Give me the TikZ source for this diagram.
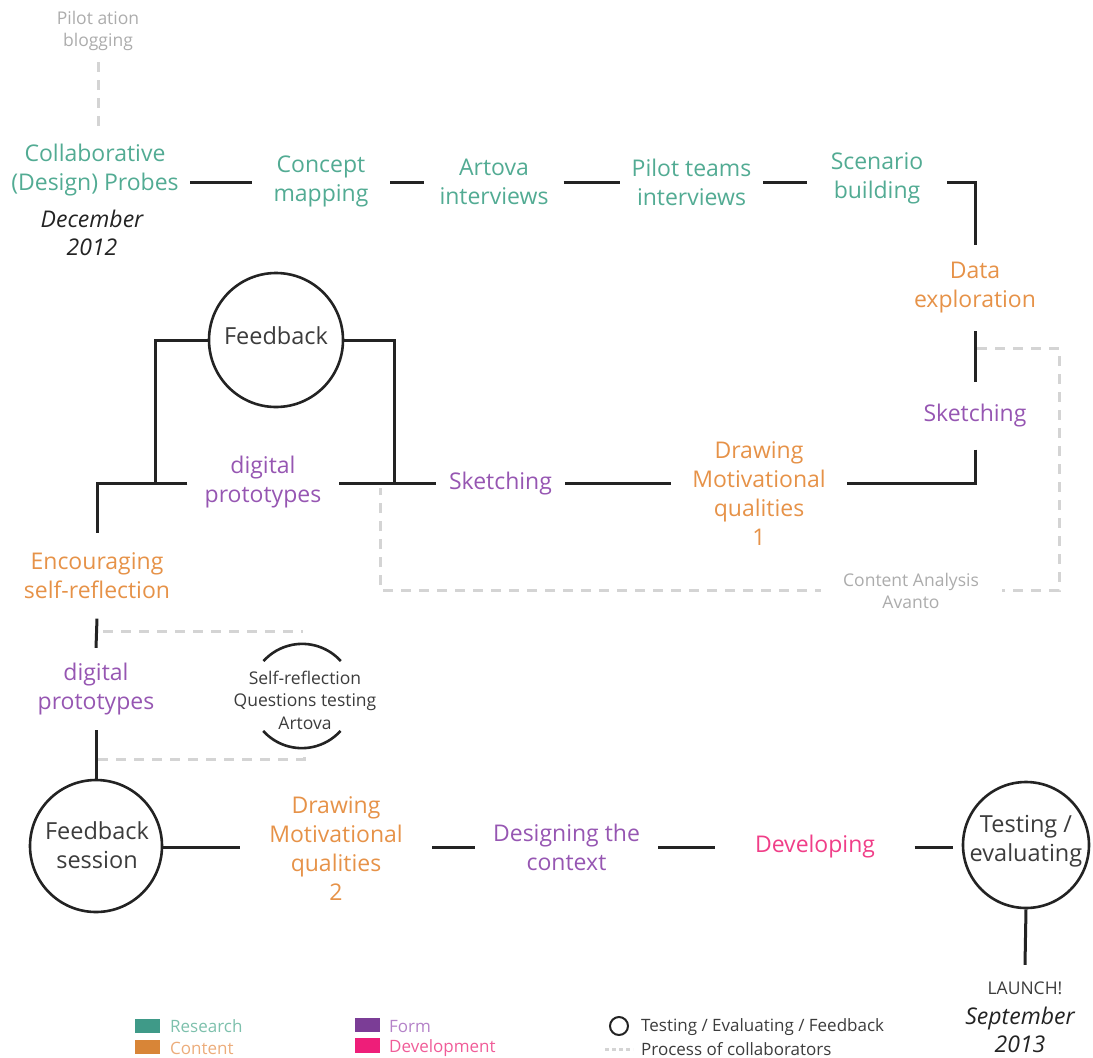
\documentclass[tikz,border=0pt]{standalone}
\usepackage{fontspec}
\setmainfont{Open Sans}
\definecolor{research}{RGB}{63,154,136}
\definecolor{content}{RGB}{216,133,55}
\definecolor{form}{RGB}{123,61,150}
\definecolor{devel}{RGB}{238,30,121}
\definecolor{researchtxt}{RGB}{82,171,147}
\definecolor{contenttxt}{RGB}{230,146,72}
\definecolor{formtxt}{RGB}{150,86,178}
\definecolor{develtxt}{RGB}{240,62,136}
\definecolor{researchlg}{RGB}{125,192,172}
\definecolor{contentlg}{RGB}{236,172,122}
\definecolor{formlg}{RGB}{180,130,200}
\definecolor{devello}{RGB}{240,92,152}
\definecolor{collabgray}{RGB}{212,212,212}
\definecolor{ink}{RGB}{35,35,35}
\definecolor{darktext}{RGB}{60,60,60}
\definecolor{note}{RGB}{172,172,172}
\begin{document}
\begin{tikzpicture}[x=1pt,y=-1pt,
  every node/.style={inner sep=0pt, align=center},
  big/.style={font=\fontsize{23}{29}\selectfont},
  small/.style={font=\fontsize{17.5}{22.5}\selectfont},
  legendfont/.style={font=\fontsize{17}{22}\selectfont},
  researchlbl/.style={big, text=researchtxt},
  contentlbl/.style={big, text=contenttxt},
  formlbl/.style={big, text=formtxt},
  devlbl/.style={big, text=develtxt},
  notelbl/.style={small, text=note},
  datelbl/.style={font=\fontsize{23}{28.5}\selectfont\itshape, text=ink},
  conn/.style={draw=ink, line width=3pt},
  collabline/.style={draw=collabgray, line width=3pt, dash pattern=on 10pt off 8pt},
  ring/.style={circle, draw=ink, line width=2.6pt, minimum size=#1},
  ringtext/.style={font=\fontsize{23.5}{29}\selectfont, text=darktext},
  swatch/.style={fill=#1, minimum width=25pt, minimum height=14.5pt},
  legendtext/.style={legendfont, anchor=west, text=#1}
]
\useasboundingbox (0,0) rectangle (1093,1058);

% row guides
\coordinate (top) at (0,182);
\coordinate (mid) at (0,483);
\coordinate (low) at (0,847);
\coordinate (j1) at (155,483);
\coordinate (j2) at (394,483);

% ---------- research row ----------
\node[notelbl, minimum height=62pt] (blog) at (98,31) {Pilot ation\\blogging};
\node[researchlbl, minimum width=190pt, minimum height=84pt] (collab) at (95,170) {Collaborative\\(Design) Probes};
\node[datelbl] (start) at (92,233) {December\\2012};
\node[researchlbl, minimum width=138pt] (concept) at (321,181) {Concept\\mapping};
\node[researchlbl, minimum width=139pt] (artova) at (494,182) {Artova\\interviews};
\node[researchlbl, minimum width=143pt] (pilot) at (691.5,182) {Pilot teams\\interviews};
\node[researchlbl, minimum width=140pt] (scenario) at (877,178) {Scenario\\building};

% ---------- right column and middle row ----------
\node[contentlbl, minimum height=86pt] (data) at (975,288) {Data\\exploration};
\node[formlbl, minimum height=67pt] (sketchR) at (975,416) {Sketching};
\node[contentlbl, minimum width=176pt] (draw1) at (759,494) {Drawing\\Motivational\\qualities\\1};
\node[formlbl, minimum width=129pt] (sketchM) at (500.5,484) {Sketching};
\node[formlbl, minimum width=151pt] (dp1) at (263,482) {digital\\prototypes};
\node[ring=134pt] (fb1) at (276,340) {};
\node[ringtext] (fb1txt) at (276,336) {Feedback};

% ---------- left column ----------
\node[contentlbl, minimum height=85pt] (enc) at (97,576) {Encouraging\\self-reflection};
\node[formlbl, minimum height=82pt] (dp2) at (96,689) {digital\\prototypes};
\node[ring=132pt] (fbs) at (96,846) {};
\node[ringtext] (fbstxt) at (97,845) {Feedback\\session};

% self-reflection questions (open ring)
\node[circle, minimum size=104pt] (srring) at (302,696) {};
\node[small, text=darktext] (srtxt) at (305,700) {Self-reflection\\Questions testing\\Artova};

% ---------- bottom row ----------
\node[contentlbl, minimum width=192pt] (draw2) at (336,849) {Drawing\\Motivational\\qualities\\2};
\node[formlbl, minimum width=183pt] (design) at (566.5,847) {Designing the\\context};
\node[devlbl, minimum width=199pt] (dev) at (815,847) {Developing};
\node[ring=126pt] (test) at (1026,845) {};
\node[ringtext] (testtxt) at (1026,841) {Testing /\\evaluating};
\node[small, text=darktext, minimum height=46pt] (launch) at (1025,988) {LAUNCH!};
\node[datelbl] (finish) at (1020,1030) {September\\2013};

% ---------- collaborator processes (dashed) ----------
\draw[collabline] (blog.south) -- (blog.south |- collab.north);
\draw[collabline] (977,348) -- (1059,348) -- (1059,590) -- (380,590) -- (380,488);
\node[notelbl, fill=white, minimum width=181pt, minimum height=40pt] (avanto) at (911,591) {Content Analysis\\Avanto};
\draw[collabline] (103,631) -- (303,631);
\draw[collabline] (98,759) -- (304,759) -- (304,748);

% ---------- process connectors ----------
\draw[conn] (collab.east |- top) -- (concept.west |- top);
\draw[conn] (concept.east |- top) -- (artova.west |- top);
\draw[conn] (artova.east |- top) -- (pilot.west |- top);
\draw[conn] (pilot.east |- top) -- (scenario.west |- top);
\draw[conn] (scenario.east |- top) -| (data.north);
\draw[conn] (data.south) -- (sketchR.north);
\draw[conn] (sketchR.south) |- (draw1.east |- mid);
\draw[conn] (draw1.west |- mid) -- (sketchM.east |- mid);
\draw[conn] (sketchM.west |- mid) -- (dp1.east |- mid);
\draw[conn] (dp1.west |- mid) -| (enc.north);
\draw[conn] (fb1.west) -| (j1);
\draw[conn] (fb1.east) -| (j2);
\draw[conn] (enc.south) -- (dp2.north);
\draw[conn] (dp2.south) -- (fbs.north);
\draw[conn] (fbs.east |- low) -- (draw2.west |- low);
\draw[conn] (draw2.east |- low) -- (design.west);
\draw[conn] (design.east) -- (dev.west);
\draw[conn, shorten >=9pt] (dev.east) -- (test.west |- low);
\draw[conn] (test.south) -- (launch.north);
\draw[draw=ink, line width=2.6pt] (srring.42) arc[start angle=42, end angle=138, radius=52pt];
\draw[draw=ink, line width=2.6pt] (srring.222) arc[start angle=222, end angle=318, radius=52pt];

% ---------- legend ----------
\node[swatch=research] (lgres) at (147.5,1026) {};
\node[legendtext=researchlg] (lgrestxt) at (170,1026) {Research};
\node[swatch=content] (lgcon) at (147.5,1047) {};
\node[legendtext=contentlg] (lgcontxt) at (170,1048) {Content};
\node[swatch=form] (lgform) at (367.5,1025) {};
\node[legendtext=formlg] (lgformtxt) at (389,1027) {Form};
\node[swatch=devel] (lgdev) at (367.5,1045.5) {};
\node[legendtext=devello] (lgdevtxt) at (389,1048) {Development};
\node[circle, draw=ink, line width=2pt, minimum size=18pt] (lgring) at (619,1026) {};
\node[legendtext=darktext] (lgringtxt) at (641,1027) {Testing / Evaluating / Feedback};
\coordinate (lgdash) at (605,1049);
\draw[draw=collabgray, line width=3pt, dash pattern=on 4pt off 3pt] (lgdash) -- ++(28,0);
\node[legendtext=darktext] (lgdashtxt) at (641,1049) {Process of collaborators};
\end{tikzpicture}
\end{document}
